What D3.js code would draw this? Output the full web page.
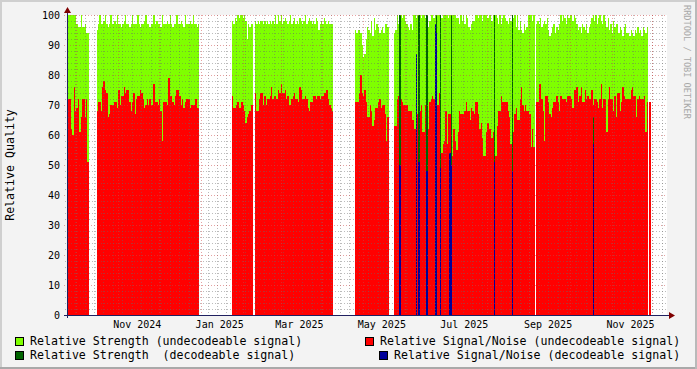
<!DOCTYPE html>
<html>
<head>
<meta charset="utf-8">
<script src="https://cdn.jsdelivr.net/npm/d3@7/dist/d3.min.js"></script>
<style>
  body { margin: 0; background: #f3f3f3; }
  svg text { font-family: "DejaVu Sans Mono", monospace; white-space: pre; }
</style>
</head>
<body>
<div id="chart"></div>
<script>
// daily values, one entry per day from the start of each recorded stretch (null = no data)
const segStarts = ['2024-09-24', '2024-10-16', '2025-01-24', '2025-04-25', '2025-05-24']

const strengthA = [100,100,100,100,100,100,100,97,96,96,100,96,96,97,94,94]
const snrA = [68,72,72,62,60,76,68,69,72,61,66,72,72,66,72,51]

const strengthB = [95,97,100,97,97,98,100,97,96,97, 100,97,97,98,97,100,97,97,96,97,
  98,100,97,97,96,97,100,97,97,97, 100,97,96,97,97,98,100,97,97,96,
  97,97,100,97,98,97,97,96,100,97, 97,97,98,97,100,97,96,97,97,100,
  97,97,98,97,96,100,97,97,97,98, 97,100,97,97,96,97]
const snrB = [68,71,71,68,76,78,75,74,66,67, 70,70,70,71,71,69,75,70,73,73,
  76,74,75,75,71,68,71,74,67,72, 73,73,75,74,72,69,70,72,70,72,
  70,70,77,71,71,70,72,68,58,71, 71,71,70,79,73,73,71,70,73,75,
  75,73,70,72,69,71,72,72,72,69, 70,70,70,72,69,69]

const strengthC = [98,97,99,98,100,99,100,100,99,100, 98,92,97,96,97,97,null,98,97,98,
  97,98,98,97,98,97,98,97,98,97, 98,97,100,97,100,98,100,97,98,99,
  98,97,98,100,97,98,99,97,98,97, 99,98,97,98,100,97,98,99,98,97,
  98,97,99,98,95,97,98,97,99,98, 97,98,97,97,97]
const snrC = [73,69,69,70,71,69,69,71,70,68, 64,66,67,68,70,70,null,74,68,68,
  72,74,74,70,73,70,72,72,73,76, 72,73,73,72,75,74,77,74,74,75,
  72,73,70,70,72,73,74,72,72,71, 76,75,72,72,73,72,69,68,71,71,
  73,73,72,73,73,72,73,73,74,74, 75,72,70,69,68]

const strengthD = [95,94,95,95,94,90,86,87,92,96, 95,94,98,93,99,95,97,96,94,95, 96,94,97,97,96]
const snrD = [71,71,71,74,80,74,73,75,71,66, 66,70,68,63,65,69,69,71,72,69, 70,70,67,58,66]

const strengthE = [94,95,100,97,98,100,99,100,98,97, 96,95,97,95,100,100,99,100,100,100,
  99,100,100,99,97,96,98,100,100,99, 100,100,100,100,100,99,100,100,100,100,
  99,100,100,100,100,100,99,99,97,100, 98,100,97,100,99,96,95,97,98,98,
  100,100,99,100,100,98,100,100,100,99, 100,100,98,100,100,100,99,97,100,97,
  99,100,99,98,97,99,98,97,99,100, 96,100,95,98,95,94,97,95,96,100,
  100,100,98,100,null,97,98,97,99,96, 97,98,97,99,95,93,94,96,97,94,
  96,95,97,100,98,100,99,97,100,99, 100,100,98,100,99,97,95,96,94,97,
  96,95,97,94,96,97,99,100,98,100, 97,99,100,98,97,100,98,96,99,95,
  97,94,98,96,97,97,94,96,95,93, 96,97,94,94,93,95,94,93,95,94,
  96,94,95,93,96,95,94,96,null,null]
const snrE = [63,63,72,73,69,72,71,70,70,70, 68,68,68,65,65,62,67,67,68,68,
  70,61,61,70,62,62,71,72,73,72, 72,72,70,74,54,54,57,58,68,57,
  67,67,53,53,62,58,55,61,68,67, 67,67,68,71,68,68,65,69,68,67,
  71,71,67,62,64,59,53,53,61,64, 62,62,59,61,57,53,63,68,68,73,
  71,71,71,71,68,66,57,57,61,67, 69,65,65,72,76,70,68,70,68,68,
  67,56,62,56,null,71,71,77,77,72, 68,58,73,73,71,67,66,69,71,71,
  73,71,68,73,72,72,72,71,73,73, 73,72,69,75,75,76,71,73,76,71,
  71,75,72,73,72,72,75,70,72,72, 71,69,72,77,69,72,72,61,72,76,
  72,72,68,73,66,74,74,68,71,76, 73,72,72,72,72,75,76,73,73,66,
  72,73,72,72,72,73,61,71,null,71]

// days that had a decodeable signal
const strengthDecDates = ['2025-05-28','2025-06-11','2025-06-17','2025-06-24','2025-06-27','2025-07-05','2025-08-06','2025-08-19','2025-10-18']
const strengthDecVals = [100,100,100,100,100,100,100,100,66]
const snrDecDates = ['2025-05-28','2025-06-09','2025-06-11','2025-06-17','2025-06-23','2025-06-24','2025-06-27','2025-07-04','2025-07-05','2025-08-06','2025-08-19','2025-10-18']
const snrDecVals = [50,87,51,48,97,94,49,54,50,51,48,57]

const yTicks = [0,10,20,30,40,50,60,70,80,90,100]
const xLabelDates = ['2024-11-15','2025-01-15','2025-03-15','2025-05-15','2025-07-15','2025-09-15','2025-11-15']

const legendLabels = ['Relative Strength (undecodeable signal)', 'Relative Signal/Noise (undecodeable signal)',
  'Relative Strength  (decodeable signal)', 'Relative Signal/Noise (decodeable signal)']
const colors = ['#7fff00', '#ff0000', '#006400', '#000099']

const W = 697, H = 369
const plotL = 67, plotT = 15, plotW = 600, plotH = 300
const parse = d3.utcParse('%Y-%m-%d')

const svg = d3.select('#chart').append('svg')
  .attr('width', W).attr('height', H)

// background and border
svg.append('rect').attr('width', W).attr('height', H).attr('fill', '#f3f3f3')
svg.append('rect').attr('x', 0).attr('y', 0).attr('width', W).attr('height', 2).attr('fill', '#cfcfcf')
svg.append('rect').attr('x', 0).attr('y', 0).attr('width', 2).attr('height', H).attr('fill', '#cfcfcf')
svg.append('rect').attr('x', 0).attr('y', H - 2).attr('width', W).attr('height', 2).attr('fill', '#a9a9a9')
svg.append('rect').attr('x', W - 2).attr('y', 0).attr('width', 2).attr('height', H).attr('fill', '#b9b9b9')

const x = d3.scaleUtc().domain([parse('2024-09-24'), parse('2025-12-12')]).range([plotL, plotL + plotW])
const y = d3.scaleLinear().domain([0, 100]).range([plotT + plotH, plotT])

// canvas
svg.append('rect').attr('x', plotL).attr('y', plotT).attr('width', plotW).attr('height', plotH).attr('fill', '#fff')

function toDays(starts, segs) {
  let out = []
  segs.forEach((vals, s) => {
    const start = parse(starts[s])
    vals.forEach((v, i) => {
      if (v != null) out.push({ date: d3.utcDay.offset(start, i), v: v })
    })
  })
  return out
}

const series = [
  toDays(segStarts, [strengthA, strengthB, strengthC, strengthD, strengthE]),
  toDays(segStarts, [snrA, snrB, snrC, snrD, snrE]),
  strengthDecDates.map((d, i) => ({ date: parse(d), v: strengthDecVals[i] })),
  snrDecDates.map((d, i) => ({ date: parse(d), v: snrDecVals[i] })),
]

const marks = svg.append('g').attr('shape-rendering', 'crispEdges')
series.forEach((data, k) => {
  marks.append('g')
    .selectAll('rect')
    .data(data)
    .join('rect')
    .attr('x', (d) => x(d.date))
    .attr('width', (d) => x(d3.utcDay.offset(d.date, 1)) - x(d.date))
    .attr('y', (d) => y(d.v))
    .attr('height', (d) => y(0) - y(d.v))
    .attr('fill', colors[k])
})

// grid on top of the data
const grid = svg.append('g').attr('shape-rendering', 'crispEdges')
const minorCol = 'rgba(105,105,105,0.45)', majorCol = 'rgba(205,70,70,0.5)'

d3.range(0, 101, 2).filter((v) => v % 10 != 0).forEach((v) => {
  grid.append('line').attr('x1', plotL - 2).attr('x2', plotL + plotW).attr('y1', y(v) + 0.5).attr('y2', y(v) + 0.5)
    .attr('stroke', minorCol).attr('stroke-dasharray', '1,2')
})
d3.utcMonday.range(x.domain()[0], x.domain()[1]).forEach((d) => {
  const px = Math.round(x(d)) + 0.5
  grid.append('line').attr('x1', px).attr('x2', px).attr('y1', plotT).attr('y2', plotT + plotH + 2)
    .attr('stroke', minorCol).attr('stroke-dasharray', '1,2')
})
yTicks.forEach((v) => {
  grid.append('line').attr('x1', plotL - 3).attr('x2', plotL + plotW).attr('y1', y(v) + 0.5).attr('y2', y(v) + 0.5)
    .attr('stroke', majorCol).attr('stroke-dasharray', '1,2')
})
d3.utcMonth.range(x.domain()[0], x.domain()[1]).forEach((d) => {
  const px = Math.round(x(d)) + 0.5
  grid.append('line').attr('x1', px).attr('x2', px).attr('y1', plotT).attr('y2', plotT + plotH + 3)
    .attr('stroke', majorCol).attr('stroke-dasharray', '1,2')
})

// axes with arrows
const axisCol = '#202060', arrowCol = '#7f0000'
svg.append('line').attr('x1', plotL - 3).attr('x2', plotL + plotW + 3).attr('y1', y(0) + 0.5).attr('y2', y(0) + 0.5)
  .attr('stroke', axisCol)
svg.append('line').attr('x1', plotL + 0.5).attr('x2', plotL + 0.5).attr('y1', y(0) + 3).attr('y2', plotT - 3)
  .attr('stroke', axisCol)
svg.append('path').attr('d', `M${plotL + plotW + 2},${y(0) - 3}L${plotL + plotW + 8},${y(0) + 0.5}L${plotL + plotW + 2},${y(0) + 4}Z`)
  .attr('fill', arrowCol)
svg.append('path').attr('d', `M${plotL - 3},${plotT - 2}L${plotL + 0.5},${plotT - 8}L${plotL + 4},${plotT - 2}Z`)
  .attr('fill', arrowCol)

// tick labels
svg.append('g').selectAll('text').data(yTicks).join('text')
  .attr('x', 60).attr('y', (d) => y(d))
  .attr('text-anchor', 'end').attr('dominant-baseline', 'central')
  .attr('font-size', '10px').attr('fill', '#000')
  .text((d) => d)

const fmt = d3.utcFormat('%b %Y')
svg.append('g').selectAll('text').data(xLabelDates).join('text')
  .attr('x', (d) => x(parse(d))).attr('y', 328)
  .attr('text-anchor', 'middle')
  .attr('font-size', '10px').attr('fill', '#000')
  .text((d) => fmt(parse(d)))

// axis title and watermark
svg.append('text')
  .attr('transform', `translate(14,165) rotate(-90)`)
  .attr('text-anchor', 'middle')
  .attr('font-size', '11.6px').attr('fill', '#000')
  .text('Relative Quality')

svg.append('text')
  .attr('transform', `translate(684,5) rotate(90)`)
  .attr('font-size', '8.6px').attr('fill', '#a8a8a8')
  .text('RRDTOOL / TOBI OETIKER')

// legend
const legendPos = [[15, 337], [365, 337], [15, 351], [379, 351]]
legendLabels.forEach((label, i) => {
  const [lx, ly] = legendPos[i]
  svg.append('rect').attr('x', lx + 0.5).attr('y', ly + 0.5).attr('width', 8).attr('height', 8)
    .attr('fill', colors[i]).attr('stroke', '#000').attr('stroke-width', 1)
  svg.append('text').attr('x', lx + 15).attr('y', ly + 8)
    .attr('font-size', '11.6px').attr('fill', '#000')
    .text(label)
})
</script>
</body>
</html>
